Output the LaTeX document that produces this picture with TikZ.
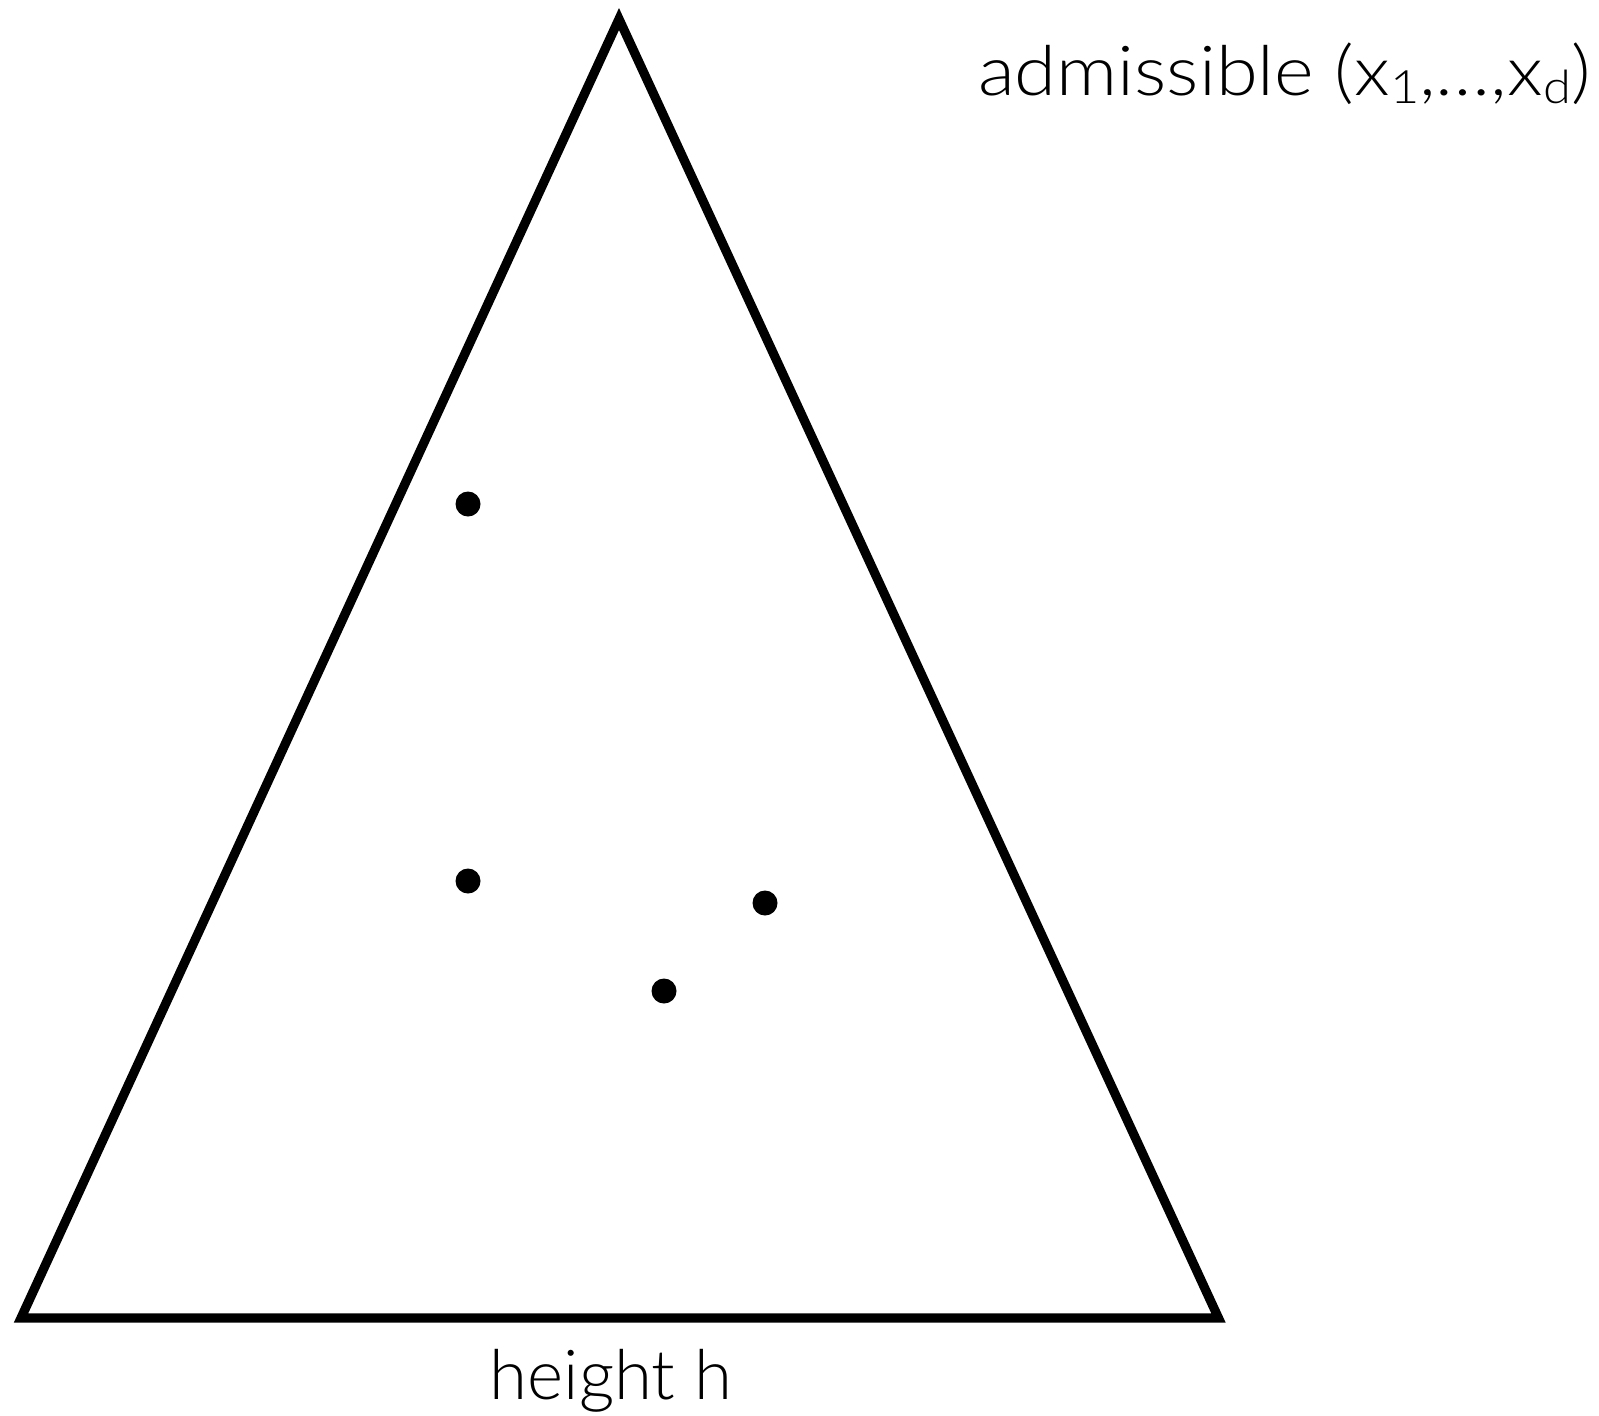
\documentclass[tikz,border=0pt]{standalone}
\usepackage{fontspec}
\setmainfont{Lato Light}
\begin{document}
\begin{tikzpicture}[x=0.5pt,y=-0.5pt,
  tri/.style={line width=4.6pt, line join=miter},
  dot/.style={circle, fill=black, inner sep=0pt, minimum size=12.5pt},
  lbl/.style={font=\fontsize{34.5}{40}\selectfont, inner sep=0pt}]
\useasboundingbox (0,0) rectangle (1599,1415);
\coordinate (apex) at (619,19);
\coordinate (bl) at (21,1318);
\coordinate (br) at (1218.5,1318);
\draw[tri] (apex) -- (bl) -- (br) -- cycle;
\node[dot] (d1) at (468,504) {};
\node[dot] (d2) at (468,881) {};
\node[dot] (d3) at (765,903) {};
\node[dot] (d4) at (664,991) {};
\node[lbl, anchor=base east] (adm) at (1591,95) {\scalebox{1.1}[1]{admissible (x\raisebox{-0.12em}{\fontsize{23}{26}\selectfont 1},\ldots,x\raisebox{-0.12em}{\fontsize{23}{26}\selectfont d})}};
\node[lbl, anchor=base] (hgt) at (611,1399) {height h};
\end{tikzpicture}
\end{document}
